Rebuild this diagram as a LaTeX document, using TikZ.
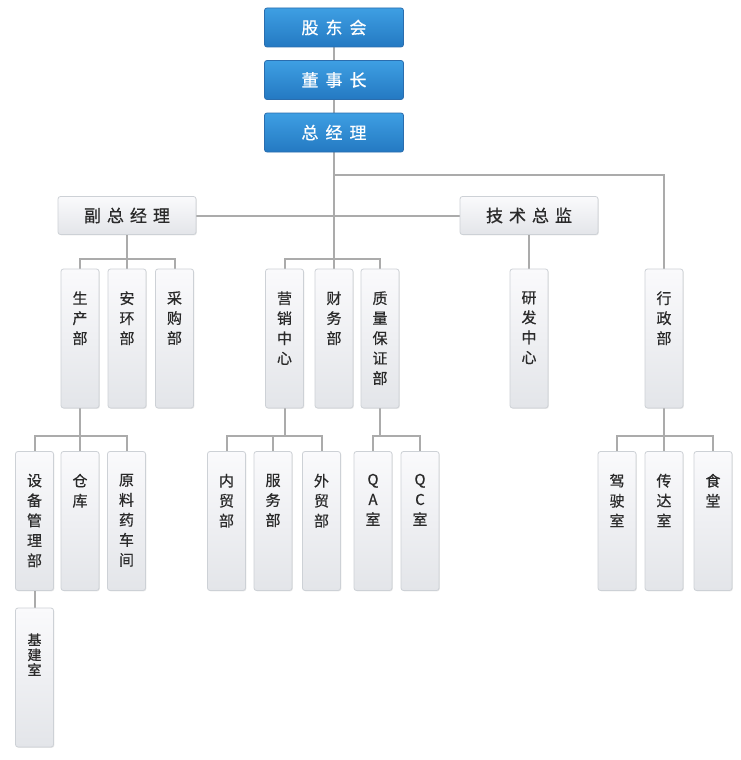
\documentclass[tikz,border=0pt]{standalone}
\usepackage{fontspec}
\setmainfont{Noto Sans CJK SC}[FakeBold=0.6]
\usetikzlibrary{shadows,backgrounds}
\definecolor{bluetop}{HTML}{3E9FE3}
\definecolor{bluebot}{HTML}{2479C2}
\definecolor{blueline}{HTML}{2A6DAE}
\definecolor{graytop}{HTML}{FAFAFC}
\definecolor{graybot}{HTML}{E3E5E9}
\definecolor{grayline}{HTML}{CDD1D6}
\definecolor{conncol}{HTML}{ABABAB}
\definecolor{txt}{HTML}{2A2A2A}
\begin{document}
\begin{tikzpicture}[x=1pt,y=-1pt,
 bluebox/.style={draw=blueline, rounded corners=2.5pt, top color=bluetop, bottom color=bluebot, minimum width=139pt, minimum height=39pt, inner sep=0, text=white, font=\fontsize{17}{20}\selectfont, line width=0.8pt},
 graybox/.style={draw=grayline, rounded corners=2.5pt, top color=graytop, bottom color=graybot, inner sep=0, text=txt, line width=0.8pt, drop shadow={opacity=0.18, shadow xshift=0.8pt, shadow yshift=-0.8pt}},
 hbox/.style={graybox, minimum width=138pt, minimum height=38pt, font=\fontsize{17}{20}\selectfont},
 vbox/.style={graybox, minimum width=38pt, minimum height=139pt},
 vtext/.style={anchor=north, align=center, font=\fontsize{15}{20}\selectfont, text=txt, inner sep=0, yshift=-22.5pt},
 conn/.style={draw=conncol, line width=2pt}]
\useasboundingbox (0,0) rectangle (740,760);
% top
\node[bluebox] (gd) at (334,27.5) {股\hspace{7pt}东\hspace{7pt}会};
\node[bluebox] (ds) at (334,80) {董\hspace{7pt}事\hspace{7pt}长};
\node[bluebox] (zjl) at (334,132.5) {总\hspace{7pt}经\hspace{7pt}理};
\node[hbox] (fzjl) at (127,215.5) {副\hspace{6pt}总\hspace{6pt}经\hspace{6pt}理};
\node[hbox] (jszj) at (529,215.5) {技\hspace{6pt}术\hspace{6pt}总\hspace{6pt}监};
% level 2
\node[vbox] (sc) at (80,338.5) {};
\node[vbox] (ah) at (127,338.5) {};
\node[vbox] (cg) at (174.5,338.5) {};
\node[vbox] (yx) at (284.5,338.5) {};
\node[vbox] (cw) at (334,338.5) {};
\node[vbox] (zl) at (380,338.5) {};
\node[vbox] (yf) at (529,338.5) {};
\node[vbox] (xz) at (664,338.5) {};
% level 3
\node[vbox] (sbgl) at (34.5,521) {};
\node[vbox] (ck) at (80,521) {};
\node[vbox] (yly) at (126.5,521) {};
\node[vbox] (nm) at (226.5,521) {};
\node[vbox] (fw) at (273,521) {};
\node[vbox] (wm) at (321.5,521) {};
\node[vbox] (qa) at (373,521) {};
\node[vbox] (qc) at (420,521) {};
\node[vbox] (js) at (617,521) {};
\node[vbox] (cd) at (664,521) {};
\node[vbox] (st) at (713,521) {};
\node[vbox] (jjs) at (34.5,677.5) {};
% texts
\node[vtext] (tsc) at (sc.north) {生\\产\\部};
\node[vtext] (tah) at (ah.north) {安\\环\\部};
\node[vtext] (tcg) at (cg.north) {采\\购\\部};
\node[vtext] (tyx) at (yx.north) {营\\销\\中\\心};
\node[vtext] (tcw) at (cw.north) {财\\务\\部};
\node[vtext] (tzl) at (zl.north) {质\\量\\保\\证\\部};
\node[vtext] (tyf) at (yf.north) {研\\发\\中\\心};
\node[vtext] (txz) at (xz.north) {行\\政\\部};
\node[vtext] (tsbgl) at (sbgl.north) {设\\备\\管\\理\\部};
\node[vtext] (tck) at (ck.north) {仓\\库};
\node[vtext] (tyly) at (yly.north) {原\\料\\药\\车\\间};
\node[vtext] (tnm) at (nm.north) {内\\贸\\部};
\node[vtext] (tfw) at (fw.north) {服\\务\\部};
\node[vtext] (twm) at (wm.north) {外\\贸\\部};
\node[vtext] (tqa) at (qa.north) {Q\\A\\室};
\node[vtext] (tqc) at (qc.north) {Q\\C\\室};
\node[vtext] (tjs) at (js.north) {驾\\驶\\室};
\node[vtext] (tcd) at (cd.north) {传\\达\\室};
\node[vtext] (tst) at (st.north) {食\\堂};
\node[vtext, font=\fontsize{14}{15}\selectfont, yshift=-3pt] (tjjs) at (jjs.north) {基\\建\\室};
% connectors
\begin{pgfonlayer}{background}
\fill[white] (0,0) rectangle (740,760);
\draw[conn] (gd) -- (ds);
\draw[conn] (ds) -- (zjl);
\draw[conn] (zjl.south) -- (cw.north);
\coordinate (j1) at (334,175);
\draw[conn] (j1) -| (xz.north);
\draw[conn] (fzjl.east) -- (jszj.west);
\draw[conn] (fzjl.south) -- (ah.north);
\draw[conn] (sc.north) -- ++(0,-10) -| (cg.north);
\draw[conn] (yx.north) -- ++(0,-10) -| (zl.north);
\draw[conn] (jszj.south) -- (yf.north);
\draw[conn] (sc.south) -- (ck.north);
\draw[conn] (sbgl.north) -- ++(0,-15) -| (yly.north);
\draw[conn] (sbgl.south) -- (jjs.north);
\draw[conn] (yx.south) -- ++(0,29);
\draw[conn] (nm.north) -- ++(0,-15) -| (wm.north);
\draw[conn] (fw.north) -- ++(0,-15);
\draw[conn] (zl.south) -- ++(0,29);
\draw[conn] (qa.north) -- ++(0,-15) -| (qc.north);
\draw[conn] (xz.south) -- (cd.north);
\draw[conn] (js.north) -- ++(0,-15) -| (st.north);
\end{pgfonlayer}
\end{tikzpicture}
\end{document}
